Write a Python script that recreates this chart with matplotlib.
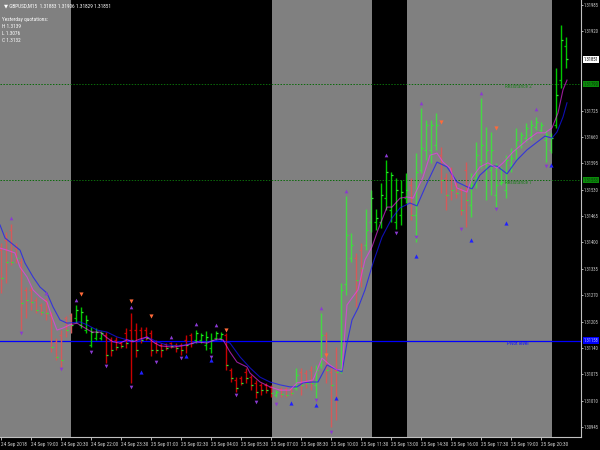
import matplotlib
matplotlib.use('Agg')
import matplotlib.pyplot as plt
from matplotlib import font_manager

# ---------------- data ----------------
time_labels = ["24 Sep 2018", "24 Sep 19:00", "24 Sep 20:30", "24 Sep 22:00", "24 Sep 23:30",
               "25 Sep 01:00", "25 Sep 02:30", "25 Sep 04:00", "25 Sep 05:30", "25 Sep 07:00",
               "25 Sep 08:30", "25 Sep 10:00", "25 Sep 11:30", "25 Sep 13:00", "25 Sep 14:30",
               "25 Sep 16:00", "25 Sep 17:30", "25 Sep 19:00", "25 Sep 20:30"]
label_bars = [0, 6, 12, 18, 24, 30, 36, 42, 48, 54, 60, 66, 72, 78, 84, 90, 96, 102, 108]

opens = [1.31381, 1.31406, 1.31431, 1.31386, 1.31352, 1.31283, 1.31283, 1.31258, 1.31246, 1.31258, 1.31221, 1.31155, 1.31172, 1.31214,
         1.31221, 1.31214, 1.31197, 1.31184, 1.31147, 1.31165, 1.31165, 1.31172, 1.31160, 1.31160,
         1.31152, 1.31177, 1.31184, 1.31184, 1.31184, 1.31184, 1.31177, 1.31152, 1.31147, 1.31150,
         1.31152, 1.31147, 1.31147, 1.31160, 1.31172, 1.31160, 1.31160, 1.31147, 1.31140, 1.31165,
         1.31165, 1.31172, 1.31086, 1.31061, 1.31066, 1.31081, 1.31068, 1.31054, 1.31049, 1.31049,
         1.31044, 1.31024, 1.31039, 1.31039, 1.31039, 1.31041, 1.31081, 1.31078, 1.31086, 1.31049,
         1.31098, 1.31172, 1.31081, 1.31086, 1.31086, 1.31298, 1.31362, 1.31362, 1.31381, 1.31394,
         1.31450, 1.31450, 1.31450, 1.31509, 1.31480, 1.31450, 1.31468, 1.31509, 1.31542, 1.31468,
         1.31578, 1.31628, 1.31628, 1.31640, 1.31615, 1.31559, 1.31574, 1.31542, 1.31529, 1.31578,
         1.31492, 1.31559, 1.31603, 1.31554, 1.31578, 1.31517, 1.31546, 1.31529, 1.31591, 1.31628,
         1.31640, 1.31657, 1.31665, 1.31684, 1.31677, 1.31652, 1.31628, 1.31689, 1.31800, 1.31883]
highs = [1.31399, 1.31426, 1.31445, 1.31399, 1.31362, 1.31290, 1.31290, 1.31266, 1.31251, 1.31263, 1.31229, 1.31165, 1.31184, 1.31219,
         1.31226, 1.31246, 1.31241, 1.31221, 1.31192, 1.31189, 1.31182, 1.31179, 1.31167, 1.31167,
         1.31155, 1.31189, 1.31226, 1.31201, 1.31192, 1.31192, 1.31184, 1.31160, 1.31152, 1.31152,
         1.31155, 1.31152, 1.31152, 1.31172, 1.31177, 1.31184, 1.31177, 1.31182, 1.31177, 1.31182,
         1.31179, 1.31177, 1.31091, 1.31068, 1.31071, 1.31091, 1.31073, 1.31061, 1.31054, 1.31054,
         1.31049, 1.31036, 1.31044, 1.31044, 1.31041, 1.31091, 1.31091, 1.31086, 1.31096, 1.31098,
         1.31226, 1.31179, 1.31093, 1.31142, 1.31300, 1.31514, 1.31423, 1.31374, 1.31399, 1.31482,
         1.31529, 1.31482, 1.31546, 1.31603, 1.31574, 1.31559, 1.31554, 1.31571, 1.31559, 1.31620,
         1.31731, 1.31702, 1.31702, 1.31719, 1.31635, 1.31571, 1.31586, 1.31549, 1.31537, 1.31598,
         1.31571, 1.31647, 1.31756, 1.31684, 1.31672, 1.31596, 1.31586, 1.31615, 1.31633, 1.31682,
         1.31672, 1.31694, 1.31702, 1.31709, 1.31697, 1.31677, 1.31670, 1.31830, 1.31936, 1.31906]
lows = [1.31275, 1.31300, 1.31344, 1.31349, 1.31184, 1.31214, 1.31234, 1.31226, 1.31221, 1.31209, 1.31130, 1.31110, 1.31093, 1.31167,
        1.31177, 1.31201, 1.31189, 1.31177, 1.31142, 1.31160, 1.31160, 1.31103, 1.31120, 1.31135,
        1.31140, 1.31140, 1.31054, 1.31118, 1.31152, 1.31160, 1.31120, 1.31128, 1.31118, 1.31135,
        1.31140, 1.31130, 1.31123, 1.31128, 1.31142, 1.31152, 1.31152, 1.31135, 1.31128, 1.31160,
        1.31160, 1.31086, 1.31056, 1.31031, 1.31049, 1.31054, 1.31036, 1.31017, 1.31024, 1.31029,
        1.31019, 1.31019, 1.31019, 1.31019, 1.31024, 1.31036, 1.31024, 1.31041, 1.31036, 1.31017,
        1.31091, 1.31054, 1.30945, 1.30962, 1.31078, 1.31270, 1.31352, 1.31241, 1.31290, 1.31381,
        1.31426, 1.31431, 1.31436, 1.31480, 1.31450, 1.31433, 1.31443, 1.31497, 1.31455, 1.31401,
        1.31571, 1.31603, 1.31596, 1.31628, 1.31522, 1.31480, 1.31505, 1.31509, 1.31468, 1.31438,
        1.31463, 1.31534, 1.31583, 1.31505, 1.31517, 1.31487, 1.31542, 1.31509, 1.31574, 1.31603,
        1.31633, 1.31647, 1.31652, 1.31677, 1.31672, 1.31598, 1.31620, 1.31682, 1.31781, 1.31829]
closes = [1.31312, 1.31352, 1.31352, 1.31362, 1.31251, 1.31258, 1.31253, 1.31234, 1.31229, 1.31226, 1.31142, 1.31118, 1.31110, 1.31184,
          1.31197, 1.31234, 1.31229, 1.31209, 1.31179, 1.31179, 1.31177, 1.31123, 1.31135, 1.31142,
          1.31145, 1.31152, 1.31160, 1.31135, 1.31160, 1.31165, 1.31135, 1.31135, 1.31135, 1.31140,
          1.31145, 1.31140, 1.31135, 1.31147, 1.31152, 1.31177, 1.31172, 1.31167, 1.31160, 1.31177,
          1.31174, 1.31098, 1.31066, 1.31041, 1.31054, 1.31066, 1.31049, 1.31031, 1.31036, 1.31036,
          1.31029, 1.31031, 1.31027, 1.31024, 1.31029, 1.31073, 1.31049, 1.31054, 1.31054, 1.31086,
          1.31172, 1.31086, 1.31049, 1.31081, 1.31283, 1.31418, 1.31394, 1.31307, 1.31337, 1.31431,
          1.31509, 1.31460, 1.31517, 1.31574, 1.31566, 1.31529, 1.31524, 1.31529, 1.31468, 1.31574,
          1.31633, 1.31689, 1.31689, 1.31689, 1.31554, 1.31517, 1.31529, 1.31522, 1.31480, 1.31505,
          1.31542, 1.31615, 1.31640, 1.31628, 1.31628, 1.31542, 1.31549, 1.31603, 1.31608, 1.31652,
          1.31665, 1.31682, 1.31689, 1.31697, 1.31689, 1.31665, 1.31657, 1.31763, 1.31899, 1.31851]
# bar colouring (R = red bar, G = green bar)
trend = ("R" * 15 + "G" * 6 + "R" * 18 + "G" * 6 + "R" * 10 + "G" + "R" * 3 + "G" + "R" * 3 +
         "G" * 2 + "R" * 3 + "G" * 3 + "R" * 2 + "G" * 9 + "R" + "G" * 5 + "R" * 6 + "G" * 20)

# shaded (grey) sessions, in bar units
grey_sessions = [(-0.2, 14.0), (54.2, 74.2), (81.2, 110.2)]

# moving averages
ma_blue_x = [-0.2, 0.8, 1.8, 3.8, 4.8, 6.4, 7.8, 9.2, 10.4, 11.8, 13.2, 15.8, 17.2, 19.2, 21.2, 23.2, 25.2, 27.2,
             29.2, 31.2, 33.2, 35.8, 38.4, 41.2, 43.8, 45.8, 47.8, 49.8, 51.8, 53.8, 55.8, 57.8, 59.2, 60.4, 62.4,
             63.4, 65.2, 67.2, 68.2, 69.2, 70.2, 71.4, 72.8, 74.4, 76.2, 78.2, 79.8, 81.8, 83.2, 85.2, 87.2, 89.2,
             91.2, 93.2, 94.2, 95.8, 97.8, 99.2, 101.2, 103.2, 105.2, 107.2, 108.8, 110.2, 111.2, 112.4, 113.2]
ma_blue = [1.31443, 1.31411, 1.31401, 1.31381, 1.31349, 1.31315, 1.31290, 1.31275, 1.31241, 1.31209, 1.31201, 1.31204,
           1.31197, 1.31184, 1.31179, 1.31167, 1.31160, 1.31155, 1.31167, 1.31155, 1.31147, 1.31145, 1.31152, 1.31155,
           1.31160, 1.31152, 1.31118, 1.31091, 1.31068, 1.31056, 1.31049, 1.31044, 1.31044, 1.31054, 1.31056, 1.31056,
           1.31098, 1.31086, 1.31081, 1.31152, 1.31209, 1.31238, 1.31283, 1.31349, 1.31413, 1.31460, 1.31485, 1.31497,
           1.31490, 1.31546, 1.31598, 1.31586, 1.31549, 1.31537, 1.31532, 1.31566, 1.31588, 1.31588, 1.31569, 1.31603,
           1.31628, 1.31647, 1.31662, 1.31657, 1.31672, 1.31709, 1.31744]
ma_mag_x = [-0.2, 1.2, 2.8, 3.8, 5.2, 6.4, 7.8, 9.2, 10.2, 11.2, 12.4, 13.8, 15.2, 16.4, 18.2, 19.8, 21.2, 22.4, 23.8,
            25.2, 26.4, 27.8, 29.2, 30.4, 31.8, 34.4, 37.2, 39.2, 41.2, 43.2, 44.4, 45.8, 47.2, 49.2, 49.8, 51.8, 53.8,
            55.8, 57.8, 59.2, 60.4, 62.4, 64.2, 65.8, 67.2, 68.2, 69.2, 70.2, 71.4, 72.8, 74.2, 75.4, 77.2, 78.2, 79.8,
            81.2, 82.4, 84.4, 85.8, 87.2, 88.4, 89.8, 91.2, 93.2, 94.2, 95.8, 97.4, 99.2, 100.4, 102.4, 105.2, 107.2,
            108.8, 110.2, 111.4, 112.4, 113.2]
ma_mag = [1.31386, 1.31381, 1.31374, 1.31339, 1.31315, 1.31283, 1.31266, 1.31253, 1.31216, 1.31184, 1.31189, 1.31197,
          1.31201, 1.31192, 1.31179, 1.31179, 1.31165, 1.31155, 1.31152, 1.31160, 1.31155, 1.31162, 1.31167, 1.31155,
          1.31145, 1.31142, 1.31147, 1.31155, 1.31152, 1.31162, 1.31160, 1.31130, 1.31105, 1.31093, 1.31078, 1.31056,
          1.31044, 1.31036, 1.31036, 1.31054, 1.31056, 1.31061, 1.31115, 1.31098, 1.31086, 1.31086, 1.31246, 1.31263,
          1.31283, 1.31357, 1.31389, 1.31431, 1.31487, 1.31487, 1.31509, 1.31512, 1.31509, 1.31561, 1.31615, 1.31620,
          1.31598, 1.31583, 1.31534, 1.31524, 1.31559, 1.31586, 1.31596, 1.31583, 1.31596, 1.31623, 1.31652, 1.31670,
          1.31670, 1.31682, 1.31719, 1.31776, 1.31800]

# signal arrows
frac_up_x = [2, 9, 15, 26, 34, 39, 43, 64, 69, 77, 84, 96, 107]
frac_up = [1.31460, 1.31275, 1.31258, 1.31241, 1.31167, 1.31199, 1.31197, 1.31238, 1.31527, 1.31615, 1.31744, 1.31768, 1.31729]
frac_dn_x = [4, 12, 18, 21, 26, 31, 36, 42, 47, 51, 55, 63, 66, 79, 83, 92, 99, 109]
frac_dn = [1.31177, 1.31088, 1.31130, 1.31096, 1.31044, 1.31105, 1.31115, 1.31118, 1.31024, 1.31007, 1.31002, 1.31012,
           1.30933, 1.31423, 1.31413, 1.31433, 1.31482, 1.31588]
sell_x = [16, 26, 30, 45, 65, 88, 99]
sell = [1.31273, 1.31256, 1.31219, 1.31184, 1.31123, 1.31697, 1.31682]
buy_x = [28, 37, 42, 58, 63, 67, 83, 94, 101, 110]
buy = [1.31081, 1.31120, 1.31110, 1.31004, 1.30999, 1.31017, 1.31367, 1.31406, 1.31448, 1.31591]

right_ticks = [1.31985, 1.31920, 1.31725, 1.31660, 1.31595, 1.31530, 1.31465, 1.31400, 1.31335,
               1.31270, 1.31205, 1.31140, 1.31075, 1.31010, 1.30945]
resistance2 = 1.31790
resistance1 = 1.31553
pivot = 1.31158
last_price = 1.31851
header = "GBPUSD,M15  1.31883 1.31906 1.31829 1.31851"
yesterday = ["Yesterday quotations:", "H 1.3139", "L 1.3076", "C 1.3132"]

# ---------------- style ----------------
names = {f.name for f in font_manager.fontManager.ttflist}
if 'Liberation Sans Narrow' in names:
    fam, FS, FSR = 'Liberation Sans Narrow', 4.0, 3.6
elif 'Roboto Condensed' in names:
    fam, FS, FSR = 'Roboto Condensed', 3.8, 3.3
else:
    fam, FS, FSR = 'Liberation Sans', 3.35, 2.95
plt.rcParams['font.family'] = [fam, 'DejaVu Sans']
TXT = '#d0d0d0'

fig = plt.figure(figsize=(6, 4.5), dpi=100, facecolor='black')
ax = fig.add_axes([0, 13 / 450, 581 / 600, 437 / 450])
ax.set_facecolor('black')
ax.set_xlim(-0.2, 116)
ax.set_ylim(1.309205, 1.319973)

for a, b in grey_sessions:
    ax.axvspan(a, b, color='#808080', zorder=0, lw=0)


def in_grey(i):
    return any(a <= i <= b for a, b in grey_sessions)


for i in range(len(opens)):
    g = in_grey(i)
    if trend[i] == 'G':
        col = '#45d845' if g else '#00c800'
    else:
        col = '#d45a5a' if g else '#c80000'
    ax.vlines(i, lows[i], highs[i], colors=col, lw=1.0, zorder=3)
    ax.hlines(opens[i], i - 0.45, i, colors=col, lw=0.9, zorder=3)
    ax.hlines(closes[i], i, i + 0.45, colors='#30e830', lw=0.9, zorder=3)

ax.plot(ma_blue_x, ma_blue, color='#1515ff', alpha=0.7, lw=0.8, zorder=4)
ax.plot(ma_mag_x, ma_mag, color='#ff30ff', alpha=0.6, lw=0.8, zorder=4)

ax.axhline(resistance2, color='#0a6a0a', lw=0.7, ls=(0, (1.5, 1.5)), zorder=2)
ax.axhline(resistance1, color='#0a6a0a', lw=0.7, ls=(0, (1.5, 1.5)), zorder=2)
ax.axhline(pivot, color='#0000ff', lw=0.9, zorder=2)
ax.text(100.8, resistance2, 'Resistance 2', color='#237d23', fontsize=FS, va='top', ha='left', zorder=5)
ax.text(100.8, resistance1, 'Resistance 1', color='#237d23', fontsize=FS, va='top', ha='left', zorder=5)
ax.text(101.2, pivot, 'Pivot level', color='#1010ff', fontsize=FS, va='top', ha='left', zorder=5)

ax.scatter(frac_up_x, frac_up, marker='^', s=7, color='#8a3ad0', lw=0, zorder=5)
ax.scatter(frac_dn_x, frac_dn, marker='v', s=7, color='#8a3ad0', lw=0, zorder=5)
ax.scatter(sell_x, sell, marker='v', s=9, color='#ff6a3a', lw=0, zorder=5)
ax.scatter(buy_x, buy, marker='^', s=9, color='#2020ff', lw=0, zorder=5)

# axes styling
for s in ('left', 'top'):
    ax.spines[s].set_visible(False)
for s in ('right', 'bottom'):
    ax.spines[s].set_color('#c0c0c0')
    ax.spines[s].set_linewidth(0.8)
ax.yaxis.tick_right()
ax.set_yticks(right_ticks)
ax.set_yticklabels([f'{v:.5f}' for v in right_ticks])
ax.tick_params(axis='y', colors=TXT, labelsize=FSR, length=1.5, width=0.6, pad=0.6)
ax.set_xticks(label_bars)
ax.set_xticklabels(time_labels)
ax.tick_params(axis='x', colors=TXT, labelsize=FS, length=2.5, width=0.6, pad=1.0)
for lbl in ax.get_xticklabels():
    lbl.set_ha('left')

tr = ax.get_yaxis_transform()
box_kw = dict(fontsize=FSR, va='center', ha='left', transform=tr, zorder=6, clip_on=False)
ax.text(1.004, last_price, f'{last_price:.5f}', color='black',
        bbox=dict(facecolor='white', edgecolor='none', pad=0.5), **box_kw)
ax.text(1.004, resistance2, f'{resistance2:.5f}', color='#0a3a0a',
        bbox=dict(facecolor='#0a8a0a', edgecolor='none', pad=0.5), **box_kw)
ax.text(1.004, resistance1, f'{resistance1:.5f}', color='#0a3a0a',
        bbox=dict(facecolor='#0a8a0a', edgecolor='none', pad=0.5), **box_kw)
ax.text(1.004, pivot, f'{pivot:.5f}', color='#c0c0ff',
        bbox=dict(facecolor='#0000ff', edgecolor='none', pad=0.5), **box_kw)

# header texts
fig.text(4 / 600, 1 - 6 / 450, '\u25bc ' + header, color='white', fontsize=FS, va='center', ha='left')
for k, line in enumerate(yesterday):
    fig.text(2 / 600, 1 - (19 + 7.3 * k) / 450, line, color='white', fontsize=FS, va='center', ha='left')

fig.savefig('out.png', dpi=100, facecolor='black')
